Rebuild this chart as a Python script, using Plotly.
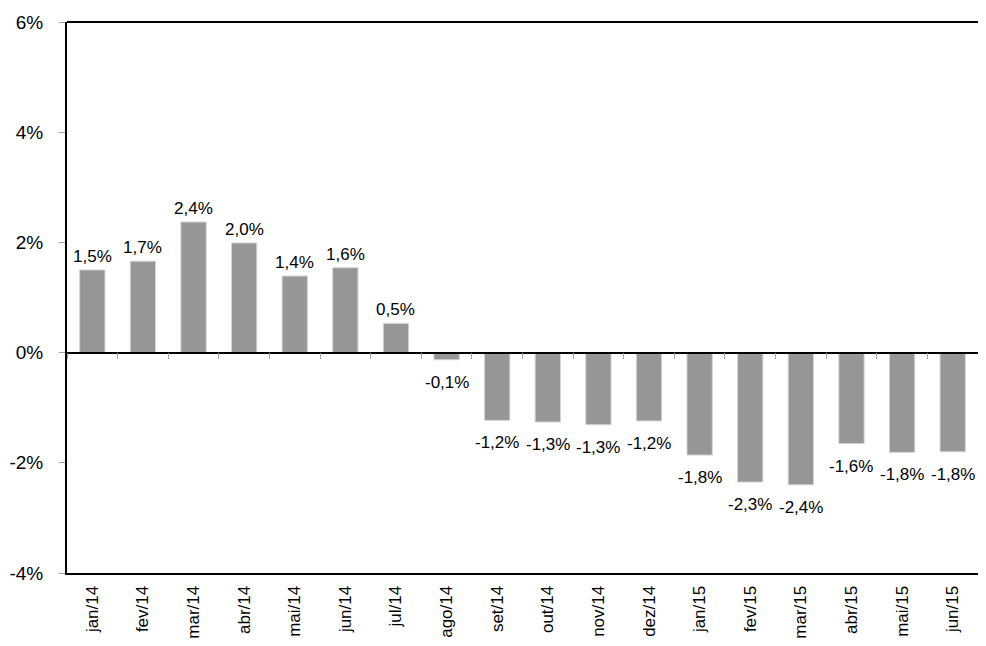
import plotly.graph_objects as go

# variação mensal (%)
meses = ["jan/14", "fev/14", "mar/14", "abr/14", "mai/14", "jun/14", "jul/14", "ago/14",
         "set/14", "out/14", "nov/14", "dez/14", "jan/15", "fev/15", "mar/15", "abr/15",
         "mai/15", "jun/15"]
valores = [1.50, 1.66, 2.37, 1.99, 1.39, 1.54, 0.53, -0.13,
           -1.23, -1.26, -1.31, -1.24, -1.86, -2.35, -2.40, -1.65,
           -1.81, -1.80]
rotulos = ["1,5%", "1,7%", "2,4%", "2,0%", "1,4%", "1,6%", "0,5%", "-0,1%",
           "-1,2%", "-1,3%", "-1,3%", "-1,2%", "-1,8%", "-2,3%", "-2,4%", "-1,6%",
           "-1,8%", "-1,8%"]
y_ticks = [-4, -2, 0, 2, 4, 6]
y_ticktext = ["-4%", "-2%", "0%", "2%", "4%", "6%"]

fonte = "Liberation Sans, Arial, sans-serif"

fig = go.Figure()
fig.add_trace(go.Bar(x=meses, y=valores, width=0.5,
                     marker=dict(color="#969696", line=dict(color="#d4d4d4", width=1)),
                     hoverinfo="skip", showlegend=False))
# traço invisível só para dar as categorias ao eixo do zero
fig.add_trace(go.Scatter(x=meses, y=valores, mode="none", xaxis="x2",
                         hoverinfo="skip", showlegend=False))

for m, v, t in zip(meses, valores, rotulos):
    fig.add_annotation(x=m, y=v, text=t, showarrow=False,
                       yanchor="bottom" if v >= 0 else "top",
                       yshift=2 if v >= 0 else -11,
                       font=dict(family=fonte, size=17, color="black"))

# a página tem 8px de margem no body
fig.update_layout(
    width=970, height=630,
    margin=dict(l=59, r=0, t=14, b=65),
    plot_bgcolor="white", paper_bgcolor="white",
    font=dict(family=fonte, color="black"),
    bargap=0.5,
    xaxis=dict(type="category", range=[-0.5, 17.5], showline=True, linecolor="black",
               linewidth=2, ticks="", tickangle=-90, showgrid=False, automargin=False,
               tickfont=dict(size=17), ticklabelstandoff=4),
    xaxis2=dict(type="category", overlaying="x", anchor="free", position=0.4,
                range=[-0.5, 17.5], showline=True, linecolor="black", linewidth=1.5,
                ticks="outside", tickson="boundaries", ticklen=6, tickcolor="#a0a0a0",
                showticklabels=False, showgrid=False, side="bottom"),
    yaxis=dict(range=[-4, 6], tickvals=y_ticks, ticktext=y_ticktext, showline=True,
               linecolor="black", linewidth=2, ticks="outside", ticklen=6,
               tickcolor="#a0a0a0", showgrid=False, zeroline=False, automargin=False,
               tickfont=dict(size=19), ticklabelstandoff=12),
    shapes=[dict(type="line", xref="paper", yref="paper", x0=0, x1=1, y0=1, y1=1,
                 line=dict(color="black", width=2))],
)

fig.write_html("out.html")
